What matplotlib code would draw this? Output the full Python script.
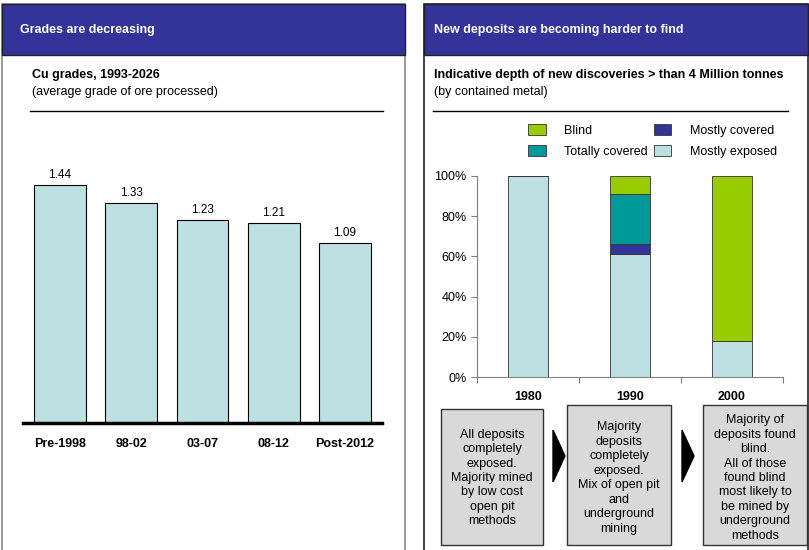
#!/usr/bin/env python3
"""
Copper grades and depth of new discoveries - two panel slide chart
"""

import matplotlib
matplotlib.use("Agg")
from matplotlib import pyplot as plt
from matplotlib.patches import Rectangle, Polygon

plt.rcParams['font.family'] = ['Liberation Sans', 'DejaVu Sans']

# Left panel data
grade_periods = ['Pre-1998', '98-02', '03-07', '08-12', 'Post-2012']
cu_grades = [1.44, 1.33, 1.23, 1.21, 1.09]

# Right panel data (share of discoveries, %)
decades = ['1980', '1990', '2000']
mostly_exposed = [100, 61, 18]
mostly_covered = [0, 5, 0]
totally_covered = [0, 25, 0]
blind = [0, 9, 82]

box_texts = [
    "All deposits\ncompletely\nexposed.\nMajority mined\nby low cost\nopen pit\nmethods",
    "Majority\ndeposits\ncompletely\nexposed.\nMix of open pit\nand\nunderground\nmining",
    "Majority of\ndeposits found\nblind.\nAll of those\nfound blind\nmost likely to\nbe mined by\nunderground\nmethods",
]

W, H = 809, 550
HEADER = '#333399'
LIGHT_BLUE = '#bde1e3'
FS = 9


def px_axes(fig, x0, y0, x1, y1):
    """Add an axes given pixel box (origin top-left)."""
    return fig.add_axes([x0 / W, 1 - y1 / H, (x1 - x0) / W, (y1 - y0) / H])


fig = plt.figure(figsize=(W / 100, H / 100), dpi=100)

# Background overlay in pixel coordinates
bg = fig.add_axes([0, 0, 1, 1], zorder=0)
bg.set_xlim(0, W)
bg.set_ylim(H, 0)
bg.axis('off')

# Panels
bg.add_patch(Rectangle((2, 4), 403, 560, facecolor='white',
                       edgecolor='#888888', lw=1.2))
bg.add_patch(Rectangle((424, 4), 384, 560, facecolor='white',
                       edgecolor='#222222', lw=1.2))
bg.add_patch(Rectangle((2, 4), 403, 51, facecolor=HEADER,
                       edgecolor='#222222', lw=1.0))
bg.add_patch(Rectangle((424, 4), 384, 51, facecolor=HEADER,
                       edgecolor='#222222', lw=1.0))

bg.text(20, 30.5, "Grades are decreasing", color='white', fontsize=FS,
        fontweight='bold', va='center')
bg.text(434, 30.5, "New deposits are becoming harder to find", color='white',
        fontsize=FS, fontweight='bold', va='center')

bg.text(32, 75, "Cu grades, 1993-2026", fontsize=FS,
        fontweight='bold', va='center')
bg.text(32, 92, "(average grade of ore processed)", fontsize=FS,
        va='center')
bg.plot([30, 383], [111, 111], color='black', lw=1.0)

bg.text(434, 75, "Indicative depth of new discoveries > than 4 Million tonnes",
        fontsize=FS, fontweight='bold', va='center')
bg.text(434, 92, "(by contained metal)", fontsize=FS, va='center')
bg.plot([433, 788], [111, 111], color='black', lw=1.0)

# Explanation boxes and arrows
boxes = [(441, 409, 543, 545), (567, 405, 671, 545), (703, 405, 807, 545)]
for (x0, y0, x1, y1), txt in zip(boxes, box_texts):
    bg.add_patch(Rectangle((x0, y0), x1 - x0, y1 - y0, facecolor='#d9d9d9',
                           edgecolor='#333333', lw=1.0))
    bg.text((x0 + x1) / 2, 478, txt, fontsize=FS,
            ha='center', va='center', linespacing=1.27)
for ax0 in (553, 682):
    bg.add_patch(Polygon([(ax0, 430), (ax0 + 12, 456), (ax0, 482)],
                         closed=True, facecolor='black', edgecolor='black'))

# Left chart: Cu grades
ax1 = px_axes(fig, 23, 150, 382, 423)
ax1.patch.set_alpha(0)
x1 = range(len(grade_periods))
bars = ax1.bar(x1, cu_grades, width=0.73, color=LIGHT_BLUE,
               edgecolor='black', linewidth=0.8)
for b, v in zip(bars, cu_grades):
    ax1.annotate(f"{v:.2f}", (b.get_x() + b.get_width() / 2, v),
                 xytext=(0, 3), textcoords='offset points',
                 ha='center', va='bottom', fontsize=8.5)
ax1.set_xlim(-0.52, 4.52)
ax1.set_ylim(0, (423 - 150) / 165.3)
ax1.set_xticks(list(x1))
ax1.set_xticklabels(grade_periods, fontweight='bold', fontsize=FS)
ax1.tick_params(axis='x', length=0, pad=11)
ax1.set_yticks([])
for s in ('top', 'right', 'left'):
    ax1.spines[s].set_visible(False)
ax1.spines['bottom'].set_linewidth(2.5)

# Right chart: depth of discoveries (stacked)
ax2 = px_axes(fig, 477, 176, 783, 377)
ax2.patch.set_alpha(0)
xc = [0.5, 1.5, 2.5]
bw = 0.4
kw = dict(width=bw, edgecolor='#333333', linewidth=0.6)
bottom = [0, 0, 0]
series = [
    ('Mostly exposed', mostly_exposed, LIGHT_BLUE),
    ('Mostly covered', mostly_covered, '#333399'),
    ('Totally covered', totally_covered, '#009999'),
    ('Blind', blind, '#99cc00'),
]
handles = {}
for name, vals, col in series:
    h = ax2.bar(xc, vals, bottom=bottom, color=col, **kw)
    handles[name] = h
    bottom = [b + v for b, v in zip(bottom, vals)]

ax2.set_xlim(0, 3)
ax2.set_ylim(0, 100)
ax2.set_yticks(range(0, 101, 20))
ax2.set_yticklabels([f"{v}%" for v in range(0, 101, 20)], fontsize=FS)
ax2.set_xticks([0, 1, 2, 3])
ax2.set_xticklabels([])
ax2.set_xticks(xc, minor=True)
ax2.set_xticklabels(decades, minor=True, fontweight='bold', fontsize=FS)
ax2.tick_params(axis='x', which='minor', length=0, pad=10)
ax2.tick_params(axis='both', which='major', length=4, color='#808080',
                direction='out')
for s in ('top', 'right'):
    ax2.spines[s].set_visible(False)
for s in ('left', 'bottom'):
    ax2.spines[s].set_color('#808080')

order = ['Blind', 'Totally covered', 'Mostly covered', 'Mostly exposed']
ax2.legend([handles[n] for n in order], order, ncol=2, frameon=False,
           fontsize=FS, handlelength=1.4, handleheight=0.95,
           handletextpad=1.5, columnspacing=0.45, labelspacing=0.7,
           borderpad=0, borderaxespad=0, loc='upper left',
           bbox_to_anchor=(528 / W, 1 - 124 / H),
           bbox_transform=fig.transFigure)

fig.savefig("out.png", dpi=100)
